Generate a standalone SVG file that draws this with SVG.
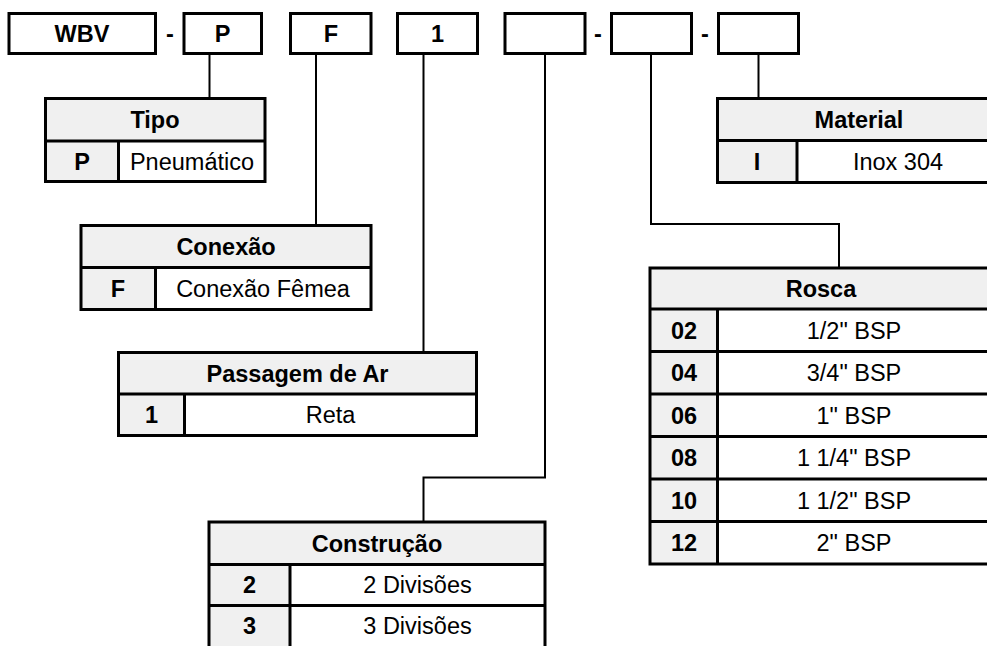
<svg xmlns="http://www.w3.org/2000/svg" width="987" height="646" viewBox="0 0 987 646">
  <style>
    .box { fill: #ffffff; stroke: #000; stroke-width: 3; }
    .hdr { fill: #f0f0f0; }
    .val { fill: #ffffff; }
    .grid { fill: none; stroke: #000; stroke-width: 3; stroke-linecap: square; }
    .link { fill: none; stroke: #000; stroke-width: 2; }
    text { font-family: "Liberation Sans", Arial, sans-serif; font-size: 23.5px; fill: #000; text-anchor: middle; }
    .b { font-weight: bold; }
  </style>
  <rect width="987" height="646" fill="#ffffff"/>

  <!-- code segments across the top -->
  <g id="code-wbv"><rect class="box" x="9" y="13.5" width="146.5" height="40"/><text class="b" x="82" y="42">WBV</text></g>
  <text class="b" x="170" y="42">-</text>
  <g id="code-p"><rect class="box" x="184" y="13.5" width="77.5" height="40"/><text class="b" x="222.5" y="42">P</text></g>
  <g id="code-f"><rect class="box" x="290.5" y="13.5" width="80.5" height="40"/><text class="b" x="331" y="42">F</text></g>
  <g id="code-1"><rect class="box" x="397.5" y="13.5" width="80" height="40"/><text class="b" x="437.5" y="42">1</text></g>
  <g id="code-construcao"><rect class="box" x="505" y="13.5" width="80" height="40"/></g>
  <text class="b" x="598" y="42">-</text>
  <g id="code-rosca"><rect class="box" x="611.5" y="13.5" width="80" height="40"/></g>
  <text class="b" x="705" y="42">-</text>
  <g id="code-material"><rect class="box" x="718.5" y="13.5" width="80" height="40"/></g>

  <!-- connectors -->
  <g id="connectors">
    <path class="link" d="M209.5 53.5 V98.5"/>
    <path class="link" d="M316 53.5 V225.5"/>
    <path class="link" d="M423.5 53.5 V352.5"/>
    <path class="link" d="M545 53.5 V477.5 H423.5 V522"/>
    <path class="link" d="M651 53.5 V224 H839 V268"/>
    <path class="link" d="M758.5 53.5 V98.5"/>
  </g>

  <!-- Tipo -->
  <g id="tipo">
    <rect class="hdr" x="45.5" y="98.5" width="219.5" height="83"/>
    <rect class="val" x="118.5" y="141" width="146.5" height="40.5"/>
    <path class="grid" d="M45.5 98.5 H265 V181.5 H45.5 Z M45.5 141 H265 M118.5 141 V181.5"/>
    <text class="b" x="155" y="128">Tipo</text>
    <text class="b" x="82" y="169.5">P</text>
    <text x="192" y="169.5">Pneumático</text>
  </g>

  <!-- Conexão -->
  <g id="conexao">
    <rect class="hdr" x="81" y="225.5" width="290" height="84"/>
    <rect class="val" x="155.5" y="267.5" width="215.5" height="42"/>
    <path class="grid" d="M81 225.5 H371 V309.5 H81 Z M81 267.5 H371 M155.5 267.5 V309.5"/>
    <text class="b" x="226" y="255">Conexão</text>
    <text class="b" x="118" y="297">F</text>
    <text x="263" y="297">Conexão Fêmea</text>
  </g>

  <!-- Passagem de Ar -->
  <g id="passagem">
    <rect class="hdr" x="118.5" y="352.5" width="358" height="83"/>
    <rect class="val" x="184.5" y="394" width="292" height="41.5"/>
    <path class="grid" d="M118.5 352.5 H476.5 V435.5 H118.5 Z M118.5 394 H476.5 M184.5 394 V435.5"/>
    <text class="b" x="297.5" y="381.5">Passagem de Ar</text>
    <text class="b" x="151.5" y="423">1</text>
    <text x="330.5" y="423">Reta</text>
  </g>

  <!-- Construção -->
  <g id="construcao">
    <rect class="hdr" x="209" y="522" width="336" height="130"/>
    <rect class="val" x="290" y="564.5" width="255" height="90"/>
    <path class="grid" d="M209 660 V522 H545 V660 M209 564.5 H545 M209 605.5 H545 M290 564.5 V660"/>
    <text class="b" x="377" y="551.5">Construção</text>
    <text class="b" x="249.5" y="593">2</text>
    <text x="417.5" y="593">2 Divisões</text>
    <text class="b" x="249.5" y="634">3</text>
    <text x="417.5" y="634">3 Divisões</text>
  </g>

  <!-- Material -->
  <g id="material">
    <rect class="hdr" x="717.5" y="98.5" width="290" height="84"/>
    <rect class="val" x="797" y="140.5" width="210" height="42"/>
    <path class="grid" d="M1000 98.5 H717.5 V182.5 H1000 M717.5 140.5 H1000 M797 140.5 V182.5"/>
    <text class="b" x="859" y="128">Material</text>
    <text class="b" x="757" y="170">I</text>
    <text x="898" y="170">Inox 304</text>
  </g>

  <!-- Rosca -->
  <g id="rosca">
    <rect class="hdr" x="650" y="268" width="350" height="296"/>
    <rect class="val" x="717.5" y="309" width="282.5" height="255"/>
    <path class="grid" d="M1000 268 H650 V564 H1000 M650 309 H1000 M650 351.5 H1000 M650 394 H1000 M650 436.5 H1000 M650 479 H1000 M650 521.5 H1000 M717.5 309 V564"/>
    <text class="b" x="821" y="297">Rosca</text>
    <text class="b" x="684" y="338.5">02</text>
    <text x="854" y="338.5">1/2" BSP</text>
    <text class="b" x="684" y="381">04</text>
    <text x="854" y="381">3/4" BSP</text>
    <text class="b" x="684" y="423.5">06</text>
    <text x="854" y="423.5">1" BSP</text>
    <text class="b" x="684" y="466">08</text>
    <text x="854" y="466">1 1/4" BSP</text>
    <text class="b" x="684" y="508.5">10</text>
    <text x="854" y="508.5">1 1/2" BSP</text>
    <text class="b" x="684" y="551">12</text>
    <text x="854" y="551">2" BSP</text>
  </g>
</svg>
